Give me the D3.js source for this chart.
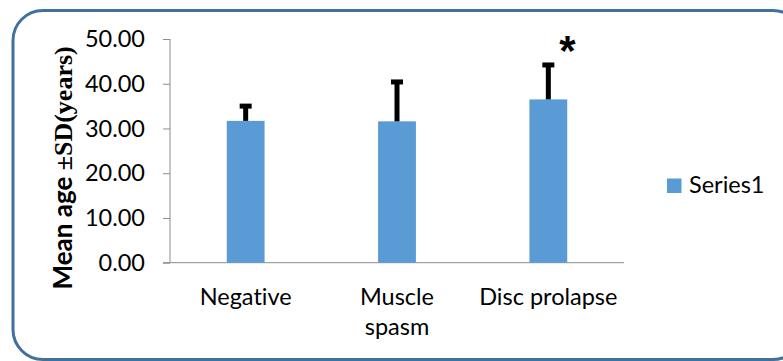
<!DOCTYPE html>
<html>
<head>
<meta charset="utf-8">
<script src="https://cdn.jsdelivr.net/npm/d3@7"></script>
<style>
  html, body { margin: 0; padding: 0; background: #ffffff; }
  svg { display: block; }
  text { font-variant-ligatures: none; font-feature-settings: "liga" 0, "clig" 0; }
</style>
</head>
<body>
<svg id="chart" width="783" height="361"></svg>
<script>
// ---- data ----
const categories = ["Negative", "Muscle\nspasm", "Disc prolapse"];
const means = [31.7, 31.6, 36.5];
const sds = [3.3, 8.8, 7.7];
const marks = ["", "", "*"];
const yTicks = [0, 10, 20, 30, 40, 50];
const seriesName = "Series1";

// ---- layout ----
const W = 783, H = 361;
const plot = { left: 170, right: 624, top: 39, bottom: 262.7 };
const barColor = "#5B9BD5";
const axisColor = "#8c8c8c";
const sansFont = "Lato, 'Open Sans', sans-serif";
const serifFont = "'Liberation Serif', 'DejaVu Serif', serif";

const svg = d3.select("#chart");

// frame
svg.append("rect")
  .attr("x", 13).attr("y", 10.5)
  .attr("width", 790).attr("height", 349)
  .attr("rx", 30).attr("ry", 30)
  .attr("fill", "#ffffff")
  .attr("stroke", "#41719C")
  .attr("stroke-width", 3);

const x = d3.scaleBand()
  .domain(categories)
  .range([plot.left, plot.right])
  .paddingInner(0.75)
  .paddingOuter(0.375);

const y = d3.scaleLinear()
  .domain([0, 50])
  .range([plot.bottom, plot.top]);

// y axis
const yAxis = d3.axisLeft(y)
  .tickValues(yTicks)
  .tickFormat(d3.format(".2f"))
  .tickSize(7)
  .tickPadding(18);

const gy = svg.append("g")
  .attr("transform", `translate(${plot.left},0)`)
  .call(yAxis);
gy.select(".domain").attr("stroke", axisColor).attr("d", `M0,${plot.top}V${plot.bottom}`);
gy.selectAll(".tick line").attr("stroke", axisColor);
gy.selectAll(".tick text")
  .attr("font-family", sansFont)
  .attr("font-size", 23.5)
  .attr("fill", "#000");

// x axis line
const gx = svg.append("g")
  .attr("transform", `translate(0,${plot.bottom})`)
  .call(d3.axisBottom(x).tickSize(0).tickFormat(""));
gx.select(".domain").attr("stroke", axisColor).attr("d", `M${plot.left - 7},0H${plot.right}`);
gx.selectAll(".tick").remove();

// category labels
const labels = svg.append("g");
categories.forEach(c => {
  const lines = c.split("\n");
  const t = labels.append("text")
    .attr("x", x(c) + x.bandwidth() / 2)
    .attr("y", plot.bottom + 42)
    .attr("text-anchor", "middle")
    .attr("font-family", sansFont)
    .attr("font-size", 23.5)
    .attr("fill", "#000");
  lines.forEach((ln, i) => {
    t.append("tspan")
      .attr("x", x(c) + x.bandwidth() / 2)
      .attr("dy", i === 0 ? 0 : 30.5)
      .text(ln);
  });
});

// bars
svg.append("g").selectAll("rect")
  .data(categories)
  .join("rect")
  .attr("x", d => x(d))
  .attr("width", x.bandwidth())
  .attr("y", (d, i) => y(means[i]))
  .attr("height", (d, i) => y(0) - y(means[i]))
  .attr("fill", barColor);

// error bars (plus direction)
const eb = svg.append("g").attr("stroke", "#000").attr("stroke-width", 5);
categories.forEach((c, i) => {
  const cx = x(c) + x.bandwidth() / 2;
  eb.append("line")
    .attr("x1", cx).attr("x2", cx)
    .attr("y1", y(means[i])).attr("y2", y(means[i] + sds[i]));
  eb.append("line")
    .attr("x1", cx - 6).attr("x2", cx + 6)
    .attr("y1", y(means[i] + sds[i])).attr("y2", y(means[i] + sds[i]));
});

// significance marks
categories.forEach((c, i) => {
  if (!marks[i]) return;
  svg.append("text")
    .attr("x", x(c) + x.bandwidth() / 2 + 19)
    .attr("y", y(means[i] + sds[i]))
    .attr("text-anchor", "middle")
    .attr("font-family", "'Liberation Sans', Arial, sans-serif")
    .attr("font-weight", "bold")
    .attr("font-size", 42)
    .attr("fill", "#000")
    .text(marks[i]);
});

// y axis title
const yt = svg.append("text")
  .attr("transform", `translate(72,${(plot.top + plot.bottom) / 2 + 17}) rotate(-90)`)
  .attr("text-anchor", "middle")
  .attr("font-weight", "bold")
  .attr("font-size", 26)
  .attr("fill", "#000");
yt.append("tspan").attr("font-family", sansFont).text("Mean age ");
yt.append("tspan").attr("font-family", serifFont).text("\u00b1SD(years)");

// legend
const lg = svg.append("g").attr("transform", "translate(667,178.5)");
lg.append("rect").attr("width", 14.5).attr("height", 14.5).attr("fill", barColor);
lg.append("text")
  .attr("x", 22).attr("y", 14.8)
  .attr("font-family", sansFont)
  .attr("font-size", 23.5)
  .attr("fill", "#000")
  .text(seriesName);
</script>
</body>
</html>
